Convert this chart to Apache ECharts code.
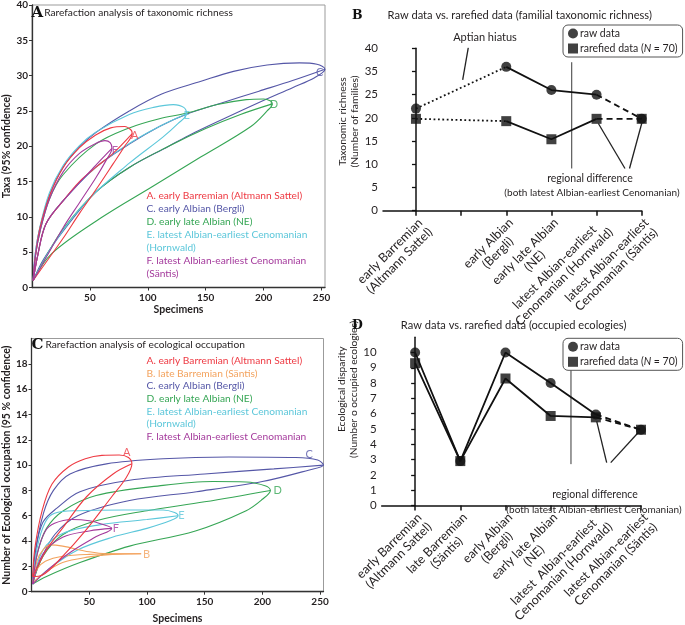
<!DOCTYPE html>
<html><head><meta charset="utf-8">
<script src="https://cdn.jsdelivr.net/npm/echarts@6/dist/echarts.min.js"></script>
<style>html,body{margin:0;padding:0;background:#fff}#c{width:685px;height:625px}</style>
</head><body><div id="c"></div>
<script>
// ================= DATA =================
// Panel A: rarefaction of taxonomic richness (x = specimens, y = taxa)
const taxaA_up   = [[1,1],[3,4.5],[7,8.5],[15.7,13.2],[27,17],[41,19.8],[55,21.6],[68,22.6],[80,22.8],[85.5,22.3],[86.5,21.8]];
const taxaA_mean = [[1,1],[5,4.6],[12,9],[27,12.3],[41,15],[55,17],[70,19],[86.5,21.8]];
const taxaA_low  = [[1,1],[14,4],[27,7],[41,10.5],[55,13.8],[70,17.5],[80,20],[86.5,21.8]];
const taxaC_up   = [[1,1],[3,5],[7,8.6],[15.7,13.3],[27,17.1],[41,19.9],[55.6,22],[84,25],[112,27.4],[146,29.2],[174,30.6],[203,31.5],[231,31.8],[246,31.6],[253,30.9]];
const taxaC_mean = [[1,1],[5,4.6],[12,9],[27,12.3],[55,17],[84,20.3],[110,22.8],[133,24.5],[165,26.2],[196,27.8],[225,29.3],[253,30.9]];
const taxaC_low  = [[1,1],[10,4],[27,8],[55,13.5],[84,17],[118,20],[135,21.5],[167,24],[196,26.2],[225,28.3],[244,29.7],[253,30.9]];
const taxaD_up   = [[1,1],[3,4.5],[7,8],[15,12.5],[27,16],[55,20.3],[84,22.6],[110,23.9],[134,24.7],[160,25.9],[185,26.6],[200,26.7],[206,26.4],[207.5,26]];
const taxaD_mean = [[1,1],[10,3.8],[27,8.3],[55,13.5],[84,17],[118,20],[150,22.5],[180,24.5],[207.5,26]];
const taxaD_low  = [[1,1],[17,4.8],[60,9.9],[103,14.2],[146,18.5],[189,22.8],[203,25],[207.5,26]];
const taxaE_up   = [[1,1],[3,5],[7,8.7],[15,13.4],[27,17.3],[41,20.1],[55,22],[84,24.5],[105,25.5],[122,25.9],[131,25.5],[133.5,24.6]];
const taxaE_mean = [[1,1],[5,4.6],[12,9],[27,12.3],[55,17],[84,20.4],[110,22.8],[133.5,24.6]];
const taxaE_low  = [[1,1],[20,6.5],[47,12.2],[84,17.6],[113,21.3],[126,23.2],[133.5,24.6]];
const taxaF_up   = [[1,1],[3,4.5],[7,8],[15,12.5],[27,16.4],[41,19],[55,20.4],[63,20.8],[67.5,20.5],[69,19.7]];
const taxaF_mean = [[1,1],[5,4.6],[12,9],[27,12.3],[55,17.3],[69,19.7]];
const taxaF_low  = [[1,1],[12,4.2],[27,8.5],[41,12],[55,15.5],[64,18],[69,19.7]];
const taxaEndLabels = [['A',88.7,21.5],['C',248.5,30.5],['D',209,25.9],['E',133.5,24.4],['F',71.6,19.4]];

// Panel C: rarefaction of ecological occupation
const occA_up   = [[1,1.2],[3,3.5],[9.2,6.4],[17.8,8.5],[32,9.85],[46.6,10.5],[61,10.77],[76,10.8],[84,10.6],[87,10.1]];
const occA_mean = [[1,1.2],[13,3.3],[27.6,5.1],[47.7,7.5],[70.7,9.3],[87,10.1]];
const occA_low  = [[1,1.2],[9.2,1.3],[26.5,2.75],[46.6,4.8],[69.5,7.5],[82,9],[87,10.1]];
const occB_up   = [[1,0.7],[5,2.5],[10,3.3],[16,3.7],[27,3.6],[50,3.15],[65,3.0],[95,3.0]];
const occB_mean = [[1,0.7],[5,1.8],[12,2.4],[27,2.8],[50,2.95],[95,3]];
const occB_low  = [[1,0.7],[10,1.4],[27,2.3],[50,2.75],[70,2.95],[95,3]];
const occC_up   = [[1,0.7],[3,3],[10.4,6.2],[19,8],[33.4,9.3],[65,10.1],[114,10.5],[171,10.64],[229,10.6],[248,10.4],[253,10]];
const occC_mean = [[1,0.7],[4,3.5],[10,5.5],[22,6.6],[42,7.9],[85,8.8],[150,9.3],[210,9.7],[253,10]];
const occC_low  = [[1,0.7],[8,2.5],[20,4.5],[40,6],[85,7.2],[143,7.9],[200,8.7],[240,9.6],[253,10]];
const occD_up   = [[1,0.6],[5,3],[13,5],[27.6,6.4],[56,7.6],[114,8.4],[157,8.7],[186,8.67],[203,8.35],[207,8]];
const occD_mean = [[1,0.6],[10,2.8],[27,4.5],[56,5.6],[100,6.4],[150,7.1],[207,8]];
const occD_low  = [[1,0.6],[13,1.2],[42,2.3],[85,3.6],[142,4.8],[186,6.4],[200,7.3],[207,8]];
const occE_up   = [[1,0.6],[5,3.5],[12,5.5],[20,6.2],[40,6.4],[80,6.45],[114,6.45],[124,6.25],[127,6]];
const occE_mean = [[1,0.6],[10,3.3],[27,4.6],[60,5.3],[100,5.7],[127,6]];
const occE_low  = [[1,0.6],[15,1.8],[40,3.3],[70,4.3],[100,5],[120,5.6],[127,6]];
const occF_up   = [[1,0.6],[5,3],[12,4.8],[20,5.4],[35,5.7],[50,5.6],[62,5.3],[69.5,5]];
const occF_mean = [[1,0.6],[10,3],[27,4.3],[50,4.8],[69.5,5]];
const occF_low  = [[1,0.6],[15,1.8],[35,3.2],[55,4.3],[69.5,5]];
const occEndLabels = [['A',82.5,11.0],['B',99.7,2.95],['C',240.5,10.85],['D',213.3,8.0],['E',129.8,6.0],['F',73,5.0]];

// Panel B: raw vs rarefied familial richness (plotted on the figure's own, mislabelled, linear axis)
const stagesB = ['early Barremian\n(Altmann Sattel)', '', 'early Albian\n(Bergli)', 'early late Albian\n(NE)', 'latest Albian-earliest\nCenomanian (Hornwald)', 'latest Albian-earliest\nCenomanian (Säntis)'];
const yTickLabelsB = ['0','5','10','15','20','25','35','40'];
const rawB  = [22, null, 31, 26, 25, 19.8];
const rareB = [19.8, null, 19.3, 15.4, 19.8, 19.8];

// Panel D: raw vs rarefied occupied ecologies
const stagesD = ['early Barremian\n(Altmann Sattel)', 'late Barremian\n(Säntis)', 'early Albian\n(Bergli)', 'early late Albian\n(NE)', 'latest  Albian-earliest\nCenomanian (Hornwald)', 'latest Albian-earliest\nCenomanian (Säntis)'];
const rawD  = [10, 2.9, 10, 8, 5.95, 4.95];
const rareD = [9.3, 2.9, 8.3, 5.85, 5.76, 4.95];

// Annotation lines (data coordinates)
const dividerB = [[3.45,9.1],[3.45,32]];
const aptianLeaderB = [[1.16,35.2],[1.035,28.2]];
const regionLeadersB = [[[4.04,18.8],[4.63,9.1]], [[5,18.8],[4.73,9.1]]];
const dividerD = [[3.45,2.7],[3.45,9.06]];
const regionLeadersD = [[[4.02,5.5],[4.24,2.8]], [[4.94,4.77],[4.33,2.8]]];

// ================= CHART =================
const FONT = 'Lato, "Noto Sans", sans-serif';
const SERIF = '"DejaVu Serif", "Liberation Serif", serif';
const INK = '#231f20';
const COL = {A:'#ee3a43', B:'#f3a35e', C:'#5557a7', D:'#36a655', E:'#5cc7da', F:'#a43a9c'};
const RAW = 'raw data', RARE = 'rarefied data (N = 70)';

const chart = echarts.init(document.getElementById('c'), null, {renderer:'canvas'});

function loop(up, low){ return up.concat(low.slice(0, -1).reverse()); }
function curves(ai, color, up, mean, low){
  const base = {type:'line', xAxisIndex:ai, yAxisIndex:ai, showSymbol:false, symbol:'none', silent:true, smooth:0.35,
                lineStyle:{color:color, width:1.1}, itemStyle:{color:color}, z:2};
  return [Object.assign({}, base, {data: loop(up, low)}), Object.assign({}, base, {data: mean})];
}
function endLabels(ai, arr){
  return {type:'scatter', xAxisIndex:ai, yAxisIndex:ai, symbolSize:1, silent:true, itemStyle:{color:'rgba(0,0,0,0)'},
    data: arr.map(d => ({value:[d[1], d[2]], name:d[0], label:{color:COL[d[0]]}})),
    label:{show:true, position:'inside', formatter:p => p.name, fontFamily:FONT, fontSize:11}, z:4};
}
function seg(arr, a, b){ const o=[]; for(let i=a;i<=b;i++) if(arr[i]!=null) o.push([i, arr[i]]); return o; }
function segLine(ai, data, type){
  return {type:'line', xAxisIndex:ai, yAxisIndex:ai, data:data, symbol:'none', silent:true,
    lineStyle:{color:'#111', width:1.8, type:type}, z:3};
}
function annLine(ai, data, w){
  return {type:'line', xAxisIndex:ai, yAxisIndex:ai, data:data, symbol:'none', silent:true,
    lineStyle:{color:'#222', width:w||1.1}, z:2};
}
function markers(ai, name, arr, sym, z){
  return {type:'scatter', name:name, xAxisIndex:ai, yAxisIndex:ai, symbol:sym, symbolSize:10,
    itemStyle:{color:'#111'}, silent:true, z:z, data: arr.map((v,i)=>v==null?null:[i,v]).filter(Boolean)};
}
const DOT = [1.8, 2.6], DASH = [6, 4];

const series = [];
// Panel A (axis 0)
[['C',taxaC_up,taxaC_mean,taxaC_low],['D',taxaD_up,taxaD_mean,taxaD_low],['E',taxaE_up,taxaE_mean,taxaE_low],
 ['A',taxaA_up,taxaA_mean,taxaA_low],['F',taxaF_up,taxaF_mean,taxaF_low]]
 .forEach(s => series.push(...curves(0, COL[s[0]], s[1], s[2], s[3])));
series.push(endLabels(0, taxaEndLabels));
// Panel C (axis 2)
[['C',occC_up,occC_mean,occC_low],['D',occD_up,occD_mean,occD_low],['E',occE_up,occE_mean,occE_low],
 ['B',occB_up,occB_mean,occB_low],['F',occF_up,occF_mean,occF_low],['A',occA_up,occA_mean,occA_low]]
 .forEach(s => series.push(...curves(2, COL[s[0]], s[1], s[2], s[3])));
series.push(endLabels(2, occEndLabels));
// Panel B (axis 1)
series.push(segLine(1, seg(rawB,0,2), DOT), segLine(1, seg(rawB,2,4), 'solid'), segLine(1, seg(rawB,4,5), DASH));
series.push(segLine(1, seg(rareB,0,2), DOT), segLine(1, seg(rareB,2,4), 'solid'), segLine(1, seg(rareB,4,5), DASH));
series.push(annLine(1, dividerB, 0.9), annLine(1, aptianLeaderB, 1.3), annLine(1, regionLeadersB[0], 1.3), annLine(1, regionLeadersB[1], 1.3));
series.push(markers(1, RARE, rareB, 'rect', 5), markers(1, RAW, rawB, 'circle', 6));
// Panel D (axis 3)
series.push(segLine(3, seg(rawD,0,4), 'solid'), segLine(3, seg(rawD,4,5), DASH));
series.push(segLine(3, seg(rareD,0,4), 'solid'), segLine(3, seg(rareD,4,5), DASH));
series.push(annLine(3, dividerD, 0.9), annLine(3, regionLeadersD[0], 1.3), annLine(3, regionLeadersD[1], 1.3));
series.push(markers(3, RAW, rawD, 'circle', 5), markers(3, RARE, rareD, 'rect', 6));

const grids = [
  {left:29.5, top:4, width:295.5, height:283.5, show:true, borderColor:'#9b9b9b', borderWidth:1},
  {left:383, top:48.3, width:258.7, height:162.4},
  {left:29.5, top:338.5, width:294, height:253.2, show:true, borderColor:'#9b9b9b', borderWidth:1},
  {left:381.7, top:337.2, width:259.3, height:196.1}
];
const axLbl = {fontFamily:FONT, fontSize:10, color:INK};
function specX(gi, gap){
  return {gridIndex:gi, type:'value', min:0, max:253, interval:50, splitLine:{show:false},
    axisLine:{lineStyle:{color:'#333', width:1.3}}, axisTick:{length:3, lineStyle:{color:'#333'}},
    axisLabel:Object.assign({showMinLabel:false, showMaxLabel:false, margin:5, fontWeight:'bold'}, axLbl),
    name:'Specimens', nameLocation:'middle', nameGap:gap, nameTextStyle:{fontFamily:FONT, fontSize:10.5, color:INK, fontWeight:'bold'}};
}
function catX(gi, min, labels){
  const fmt = v => { const s = labels[Math.round(v)] || ''; return s ? s.split('\n').map(t => '{c|' + t + '}').join('\n') : ''; };
  return {gridIndex:gi, type:'value', min:min, max:5, splitLine:{show:false},
    axisLine:{lineStyle:{color:'#111', width:1.5}},
    axisTick:{length:5, lineStyle:{color:'#111', width:1.5}, customValues:[0,1,2,3,4,5]},
    axisLabel:{customValues:[0,1,2,3,4,5], rotate:45, margin:5, verticalAlign:'top', formatter:fmt, color:INK,
      rich:{c:{align:'center', fontFamily:FONT, fontSize:12.5, lineHeight:13.5, color:INK}}}};
}
const xAxis = [specX(0, 17), catX(1, -0.73, stagesB), specX(2, 21), catX(3, -0.74, stagesD)];
const yAxis = [
  {gridIndex:0, type:'value', min:0, max:40, interval:5, splitLine:{show:false},
   axisLine:{lineStyle:{color:'#333', width:1.3}}, axisTick:{length:3, lineStyle:{color:'#333'}},
   axisLabel:Object.assign({margin:4, fontWeight:'bold'}, axLbl),
   name:'Taxa (95% confidence)', nameLocation:'middle', nameGap:20, nameTextStyle:{fontFamily:FONT, fontSize:10.5, color:INK, fontWeight:'bold'}},
  {gridIndex:1, type:'value', min:0, max:35, interval:5, splitLine:{show:false},
   axisLine:{lineStyle:{color:'#111', width:1.5}}, axisTick:{length:4, lineStyle:{color:'#111', width:1.3}},
   axisLabel:Object.assign({margin:5, formatter:v => yTickLabelsB[Math.round(v/5)]}, axLbl, {fontSize:11.5}),
   name:'Taxonomic richness\n(Number of families)', nameLocation:'middle', nameGap:17,
   nameTextStyle:{fontFamily:FONT, fontSize:10.4, lineHeight:12, color:INK, padding:[0,0,0,16]}},
  {gridIndex:2, type:'value', min:0, max:20, interval:2, splitLine:{show:false},
   axisLine:{lineStyle:{color:'#333', width:1.3}}, axisTick:{length:3, lineStyle:{color:'#333'}},
   axisLabel:Object.assign({margin:4, showMaxLabel:false, fontWeight:'bold'}, axLbl),
   name:'Number of Ecological occupation (95 % confidence)', nameLocation:'middle', nameGap:19,
   nameTextStyle:{fontFamily:FONT, fontSize:10.5, color:INK, fontWeight:'bold'}},
  {gridIndex:3, type:'value', min:0, max:11, interval:1, splitLine:{show:false},
   axisLine:{lineStyle:{color:'#111', width:1.5}}, axisTick:{length:4, lineStyle:{color:'#111', width:1.3}},
   axisLabel:Object.assign({margin:5, showMaxLabel:false}, axLbl, {fontSize:11.5}),
   name:'Ecological disparity\n(Number o occupied ecologies)', nameLocation:'middle', nameGap:17,
   nameTextStyle:{fontFamily:FONT, fontSize:10.2, lineHeight:12, color:INK, padding:[0,0,0,64]}}
];
function legendAt(top){
  return {left:563, top:top, orient:'vertical', selectedMode:false, backgroundColor:'#fff',
    borderColor:'#555', borderWidth:1, borderRadius:5, padding:[3,5,3,5], itemGap:4, itemWidth:10, itemHeight:10,
    data:[{name:RAW, icon:'circle'}, {name:RARE, icon:'rect'}],
    formatter: n => n === RARE ? 'rarefied data ({i|N} = 70)' : n,
    textStyle:{fontFamily:FONT, fontSize:10.5, color:INK, padding:[0,0,0,-3],
      rich:{i:{fontStyle:'italic', fontFamily:FONT, fontSize:10.5, color:INK}}}};
}
// text blocks as title components; (x, centre-y)
function txt(x, cy, text, opt){
  opt = opt || {};
  const size = opt.size || 10;
  const t = {text:text, left:x, top:cy - size*0.6, padding:0, itemGap:0, z:10,
    textStyle:{fontFamily:opt.family||FONT, fontWeight:opt.weight||'normal', fontSize:size, lineHeight:size*1.2, color:opt.color||INK}};
  if (opt.align) t.textAlign = opt.align;
  return t;
}
// panel heading: serif bold letter + caption, as one rich-text title
function heading(x, cy, letter, caption, lsize, csize, gap){
  return {text:'{L|' + letter + '}{t|' + caption + '}', left:x, top:cy - lsize*0.62, padding:0, z:10,
    textStyle:{color:INK, fontWeight:'normal', rich:{
      L:{fontFamily:SERIF, fontWeight:'bold', fontSize:lsize, lineHeight:lsize*1.2, color:'#111', verticalAlign:'middle'},
      t:{fontFamily:FONT, fontWeight:'normal', fontSize:csize, lineHeight:lsize*1.2, color:INK, padding:[0,0,0,gap], verticalAlign:'middle'}}}};
}
const legA = [['A. early Barremian (Altmann Sattel)','A'],['C. early Albian (Bergli)','C'],['D. early late Albian (NE)','D'],
  ['E. latest Albian-earliest Cenomanian','E'],['(Hornwald)','E'],['F. latest Albian-earliest Cenomanian','F'],['(Säntis)','F']];
const legC = [['A. early Barremian (Altmann Sattel)','A'],['B. late Barremian (Säntis)','B'],['C. early Albian (Bergli)','C'],
  ['D. early late Albian (NE)','D'],['E. latest Albian-earliest Cenomanian','E'],['(Hornwald)','E'],['F. latest Albian-earliest Cenomanian','F']];
const titles = [
  heading(31.5, 13.5, 'A', 'Rarefaction analysis of taxonomic richness', 15, 10.2, 1),
  heading(352, 15.5, 'B', 'Raw data vs. rarefied data (familial taxonomic richness)', 12.5, 11.1, 25),
  heading(31.5, 345, 'C', 'Rarefaction analysis of ecological occupation', 15, 10.2, 2),
  heading(352, 325.5, 'D', 'Raw data vs. rarefied data (occupied ecologies)', 12.5, 11.1, 38),
  txt(485, 37.5, 'Aptian hiatus', {size:11, align:'center'}),
  txt(590, 179, 'regional difference', {size:10.5, align:'center'}),
  txt(592, 193, '(both latest Albian-earliest Cenomanian)', {size:10, align:'center'}),
  txt(595, 495, 'regional difference', {size:10.5, align:'center'}),
  txt(594, 509.5, '(both latest Albian-earliest Cenomanian)', {size:10, align:'center'})
];
legA.forEach((l, i) => titles.push(txt(146.5, 196 + i*12.9, l[0], {color:COL[l[1]], size:10.2})));
legC.forEach((l, i) => titles.push(txt(146.5, 360.7 + i*12.7, l[0], {color:COL[l[1]], size:10.2})));

chart.setOption({
  animation:false,
  backgroundColor:'#fff',
  textStyle:{fontFamily:FONT},
  title:titles,
  grid:grids, xAxis:xAxis, yAxis:yAxis,
  legend:[legendAt(25), legendAt(338.3)],
  series:series
});
</script>
</body></html>
